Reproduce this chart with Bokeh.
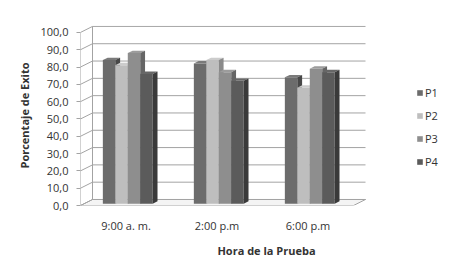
from bokeh.plotting import figure
from bokeh.models import Range1d, FixedTicker, Legend, LegendItem
from bokeh.embed import file_html
from bokeh.resources import INLINE

categories = ["9:00 a. m.", "2:00 p.m", "6:00 p.m"]
series = ["P1", "P2", "P3", "P4"]
P1 = [83, 81, 73]
P2 = [80, 83, 67]
P3 = [87, 76, 78]
P4 = [75, 71, 76]
values = [P1, P2, P3, P4]
y_ticks = [0, 10, 20, 30, 40, 50, 60, 70, 80, 90, 100]
y_tick_labels = ["0,0", "10,0", "20,0", "30,0", "40,0", "50,0", "60,0",
                 "70,0", "80,0", "90,0", "100,0"]
colors = ["#6c6c6c", "#bebebe", "#8e8e8e", "#5b5b5b"]
side_colors = ["#484848", "#8a8a8a", "#656565", "#3a3a3a"]
top_colors = ["#7a7a7a", "#cccccc", "#9c9c9c", "#676767"]

FONT = "Open Sans"
n = len(categories)
# 3D depth offset (data units)
DX = 12 / 91.0
DY = 3.47
YMAX = 100
PX_PER_CAT = 91.0

p = figure(width=452, height=272, output_backend="svg", toolbar_location=None,
           x_range=Range1d(0, 372 / PX_PER_CAT), y_range=Range1d(0, 104.0),
           min_border_left=80, min_border_right=0, min_border_top=25,
           min_border_bottom=67)
p.outline_line_color = None
p.xgrid.visible = False
p.ygrid.visible = False
p.background_fill_color = "white"
p.border_fill_color = "white"

grid_col = "#a3a3a3"
# floor
p.patch([0, n, n + DX, DX], [0, 0, DY, DY], fill_color="#f4f4f4",
        line_color=grid_col, line_width=1)
# back wall gridlines and left wall slants
p.segment(x0=[DX] * len(y_ticks), y0=[t + DY for t in y_ticks],
          x1=[n + DX] * len(y_ticks), y1=[t + DY for t in y_ticks],
          line_color=grid_col, line_width=1)
p.segment(x0=[0] * len(y_ticks), y0=y_ticks,
          x1=[DX] * len(y_ticks), y1=[t + DY for t in y_ticks],
          line_color=grid_col, line_width=1)
p.segment(x0=[DX], y0=[DY], x1=[DX], y1=[YMAX + DY], line_color=grid_col)
p.segment(x0=[0], y0=[0], x1=[0], y1=[YMAX], line_color=grid_col)

# bars
bw = 0.137
z0 = 0.3
bdx = DX * 0.4
bdy = DY * 0.4
ox = DX * z0
oy = DY * z0
renderers = []
for i, vals in enumerate(values):
    lefts = [c + 0.5 - 2 * bw + i * bw + ox - 0.02 for c in range(n)]
    rights = [l + bw for l in lefts]
    r = p.quad(left=lefts, right=rights, bottom=[oy] * n,
               top=[v + oy for v in vals], fill_color=colors[i],
               line_color=None)
    renderers.append(r)
    tx = [[l, rr, rr + bdx, l + bdx] for l, rr in zip(lefts, rights)]
    ty = [[v + oy, v + oy, v + oy + bdy, v + oy + bdy] for v in vals]
    p.patches(tx, ty, fill_color=top_colors[i], line_color=None)
    sx = [[rr, rr + bdx, rr + bdx, rr] for rr in rights]
    sy = [[oy, oy + bdy, v + oy + bdy, v + oy] for v in vals]
    p.patches(sx, sy, fill_color=side_colors[i], line_color=None)

# axes
p.yaxis.ticker = FixedTicker(ticks=y_ticks)
p.yaxis.major_label_overrides = {t: l for t, l in zip(y_ticks, y_tick_labels)}
p.yaxis.axis_line_color = None
p.yaxis.major_tick_line_color = grid_col
p.yaxis.major_tick_out = 4
p.yaxis.major_tick_in = 0
p.yaxis.minor_tick_line_color = None
p.yaxis.major_label_standoff = 8
p.yaxis.major_label_text_font = FONT
p.yaxis.major_label_text_font_size = "11px"
p.yaxis.major_label_text_color = "#333333"
p.yaxis.axis_label = "Porcentaje de Exito"
p.yaxis.axis_label_text_font = FONT
p.yaxis.axis_label_text_font_size = "11px"
p.yaxis.axis_label_text_font_style = "bold"
p.yaxis.axis_label_text_color = "#333333"
p.yaxis.axis_label_standoff = 5

cat_pos = [c + 0.5 for c in range(n)]
p.xaxis.ticker = FixedTicker(ticks=cat_pos)
p.xaxis.major_label_overrides = {t: l for t, l in zip(cat_pos, categories)}
p.xaxis.axis_line_color = None
p.xaxis.major_tick_line_color = None
p.xaxis.minor_tick_line_color = None
p.xaxis.major_label_standoff = 6
p.xaxis.major_label_text_font = FONT
p.xaxis.major_label_text_font_size = "11px"
p.xaxis.major_label_text_color = "#333333"
p.xaxis.axis_label = "Hora de la Prueba"
p.xaxis.axis_label_text_font = FONT
p.xaxis.axis_label_text_font_size = "11px"
p.xaxis.axis_label_text_font_style = "bold"
p.xaxis.axis_label_text_color = "#333333"
p.xaxis.axis_label_standoff = 7

legend = Legend(items=[LegendItem(label=s, renderers=[r]) for s, r in zip(series, renderers)],
                location=(336, 36), orientation="vertical")
legend.glyph_width = 7
legend.glyph_height = 7
legend.label_height = 14
legend.spacing = 8
legend.padding = 0
legend.margin = 0
legend.label_standoff = 2
legend.border_line_color = None
legend.background_fill_alpha = 0
legend.label_text_font = FONT
legend.label_text_font_size = "11px"
legend.label_text_color = "#333333"
p.add_layout(legend, "center")

open("out.html", "w").write(file_html(p, INLINE))
